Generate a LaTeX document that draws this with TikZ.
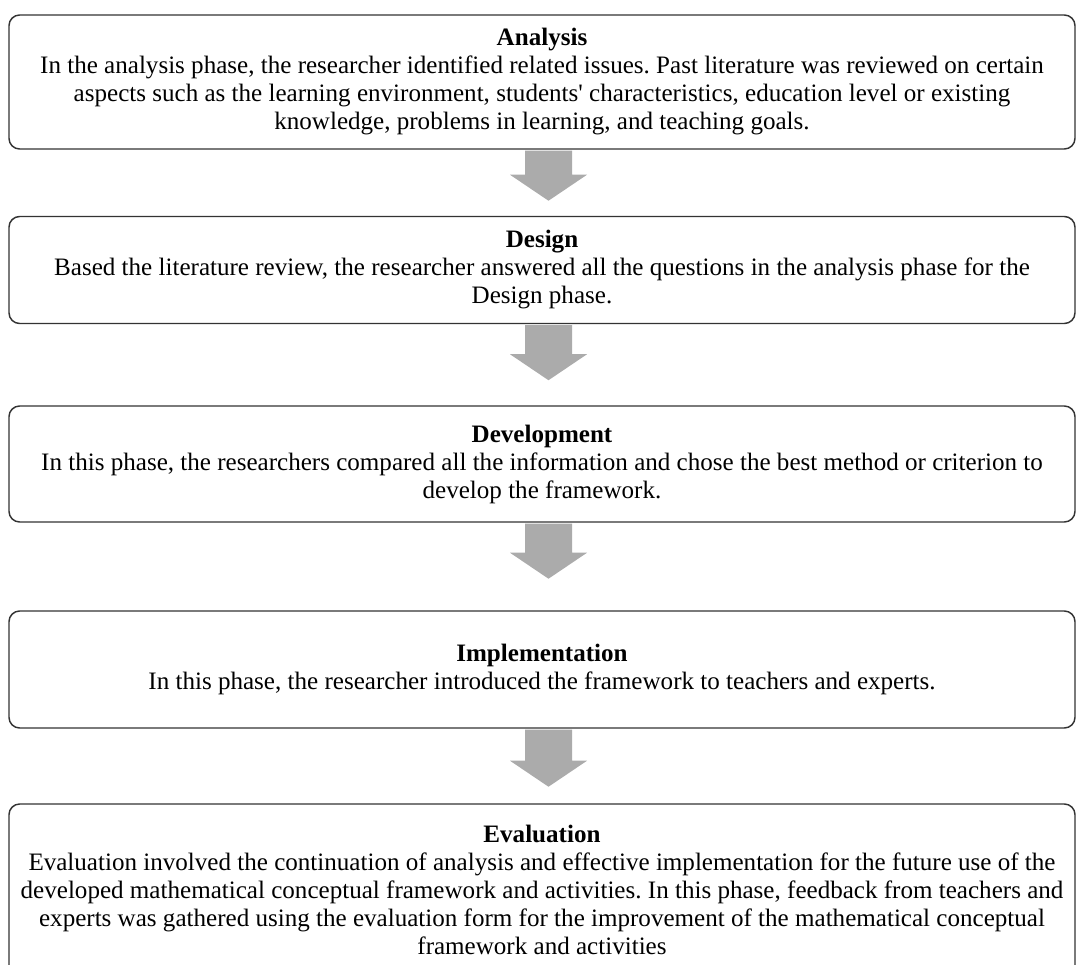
\documentclass[tikz,border=0pt]{standalone}
\usepackage{fontspec}
\setmainfont{Liberation Serif}
\usetikzlibrary{calc}
\frenchspacing

\begin{document}
\begin{tikzpicture}[x=0.75pt, y=-0.75pt,
		phase/.style={draw=black!80, line width=1.1pt, rounded corners=8pt, fill=white,
			minimum width=799.5pt, inner sep=0pt, align=center,
			font=\fontsize{18.8pt}{21pt}\selectfont},
		blockarrow/.style={fill=black!33}]
		\useasboundingbox (0,0) rectangle (1076,965);
		\node[phase, minimum height=100.5pt] (ana) at (542,82)
			{\textbf{Analysis}\\
			In the analysis phase, the researcher identified related issues. Past literature was reviewed on certain\\
			aspects such as the learning environment, students\textquotesingle{} characteristics, education level or existing\\
			knowledge, problems in learning, and teaching goals.};
		\node[phase, minimum height=80.25pt] (des) at (542,270)
			{\textbf{Design}\\
			Based the literature review, the researcher answered all the questions in the analysis phase for the\\
			Design phase.};
		\node[phase, minimum height=87pt] (dev) at (542,464)
			{\textbf{Development}\\
			In this phase, the researchers compared all the information and chose the best method or criterion to\\
			develop the framework.};
		\node[phase, minimum height=87.75pt] (imp) at (542,669.5)
			{\textbf{Implementation}\\
			In this phase, the researcher introduced the framework to teachers and experts.};
		\node[phase, minimum height=129pt] (eva) at (542,890)
			{\textbf{Evaluation}\\
			Evaluation involved the continuation of analysis and effective implementation for the future use of the\\
			developed mathematical conceptual framework and activities. In this phase, feedback from teachers and\\
			experts was gathered using the evaluation form for the improvement of the mathematical conceptual\\
			framework and activities};
		% grey block arrows hanging under each phase
		\foreach \a/\len in {ana/50, des/55, dev/55, imp/57}
			\fill[blockarrow] ($(\a.south)+(6.5,1)$) ++(-23.5,0) -- ++(47,0) -- ++(0,\len-26)
				-- ++(15,0) -- ++(-38.5,26) -- ++(-38.5,-26) -- ++(15,0) -- cycle;
\end{tikzpicture}
\end{document}
